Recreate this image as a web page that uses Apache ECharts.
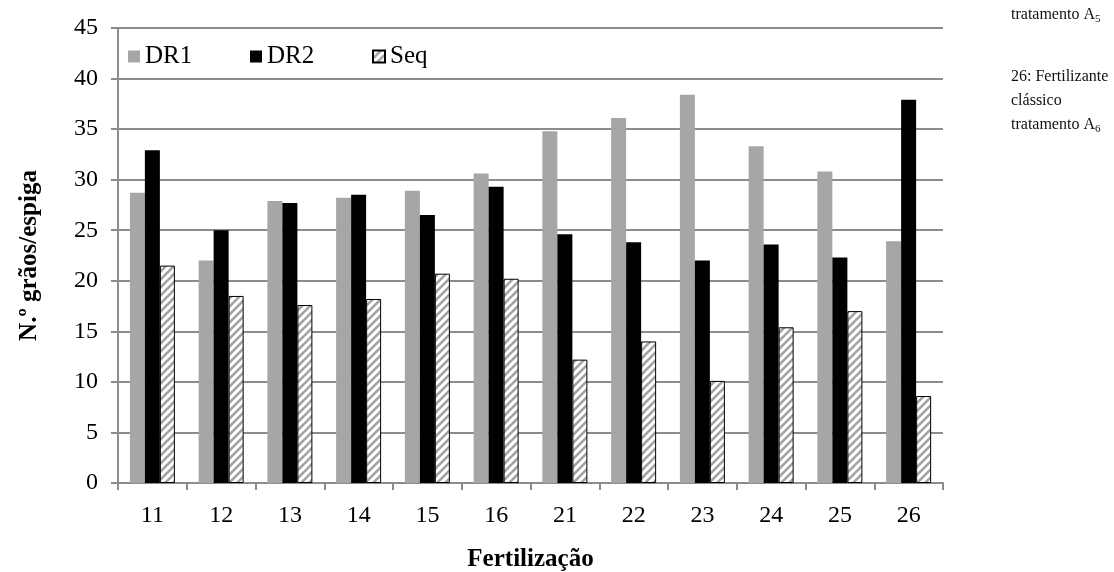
<!DOCTYPE html>
<html>
<head>
<meta charset="utf-8">
<script src="https://cdn.jsdelivr.net/npm/echarts@6/dist/echarts.min.js"></script>
<style>
  html, body { margin: 0; padding: 0; background: #fff; }
  #chart { width: 1114px; height: 572px; }
</style>
</head>
<body>
<div id="chart"></div>
<script>
// Fertilization treatments and number of grains per ear
const categories = ['11', '12', '13', '14', '15', '16', '21', '22', '23', '24', '25', '26'];
const dr1 = [28.7, 22.0, 27.9, 28.2, 28.9, 30.6, 34.8, 36.1, 38.4, 33.3, 30.8, 23.9];
const dr2 = [32.9, 25.0, 27.7, 28.5, 26.5, 29.3, 24.6, 23.8, 22.0, 23.6, 22.3, 37.9];
const seq = [21.5, 18.5, 17.6, 18.2, 20.7, 20.2, 12.2, 14.0, 10.1, 15.4, 17.0, 8.6];
const seriesNames = ['DR1', 'DR2', 'Seq'];
const yTicks = { min: 0, max: 45, step: 5 };

const FONT = '"Liberation Serif", "Times New Roman", serif';

// Diagonal hatch used for the "Seq" bars
function hatchPattern() {
  const s = 8;
  const c = document.createElement('canvas');
  c.width = s; c.height = s;
  const g = c.getContext('2d');
  g.fillStyle = '#ffffff';
  g.fillRect(0, 0, s, s);
  g.strokeStyle = '#a3a3a3';
  g.lineWidth = 2.6;
  g.beginPath();
  g.moveTo(-2, s + 2); g.lineTo(s + 2, -2);
  g.moveTo(-2, 2); g.lineTo(2, -2);
  g.moveTo(s - 2, s + 2); g.lineTo(s + 2, s - 2);
  g.stroke();
  return { image: c, repeat: 'repeat' };
}

const chart = echarts.init(document.getElementById('chart'), null, { renderer: 'canvas' });

// one legend block per series, laid out left to right
const legendLefts = [128, 250, 372];
const legends = seriesNames.map((n, i) => ({
  left: legendLefts[i], top: 44, padding: 0,
  itemWidth: 12, itemHeight: 12, itemGap: 0,
  icon: 'rect',
  textStyle: { fontFamily: FONT, fontSize: 25, color: '#000' },
  data: [n]
}));

const barW = 15;
chart.setOption({
  animation: false,
  backgroundColor: '#ffffff',
  textStyle: { fontFamily: FONT },
  grid: { left: 118, top: 28, width: 825, height: 455, containLabel: false, outerBoundsMode: 'none' },
  legend: legends,
  xAxis: {
    type: 'category',
    data: categories,
    name: 'Fertilização',
    nameLocation: 'middle',
    nameGap: 64,
    nameTextStyle: { fontFamily: FONT, fontSize: 25, fontWeight: 'bold', color: '#000' },
    axisLine: { lineStyle: { color: '#8c8c8c', width: 2 } },
    axisTick: { show: true, length: 7, lineStyle: { color: '#8c8c8c', width: 2 } },
    axisLabel: { fontFamily: FONT, fontSize: 24, color: '#000', margin: 21 }
  },
  yAxis: {
    type: 'value',
    min: yTicks.min, max: yTicks.max, interval: yTicks.step,
    name: 'N.º grãos/espiga',
    nameLocation: 'middle',
    nameGap: 76,
    nameTextStyle: { fontFamily: FONT, fontSize: 25, fontWeight: 'bold', color: '#000' },
    axisLine: { show: true, lineStyle: { color: '#8c8c8c', width: 2 } },
    axisTick: { show: true, length: 7, lineStyle: { color: '#8c8c8c', width: 2 } },
    axisLabel: { fontFamily: FONT, fontSize: 24, color: '#000', margin: 20 },
    splitLine: { show: true, lineStyle: { color: '#8c8c8c', width: 2 } }
  },
  series: [
    {
      name: seriesNames[0], type: 'bar', data: dr1, barWidth: barW, barGap: '0%',
      itemStyle: { color: '#a6a6a6' }
    },
    {
      name: seriesNames[1], type: 'bar', data: dr2, barWidth: barW, barGap: '0%',
      itemStyle: { color: '#000000' }
    },
    {
      name: seriesNames[2], type: 'bar', data: seq, barWidth: barW, barGap: '0%',
      itemStyle: { color: hatchPattern(), borderColor: '#000', borderWidth: 1 }
    }
  ],
  graphic: [
    {
      type: 'text', left: 1011, top: 7,
      style: {
        text: '{a|tratamento A}{s|5}',
        rich: {
          a: { fontFamily: FONT, fontSize: 16, fill: '#111' },
          s: { fontFamily: FONT, fontSize: 11, fill: '#111', padding: [8, 0, 0, 0] }
        }
      }
    },
    {
      type: 'text', left: 1011, top: 69,
      style: {
        text: '{a|26: Fertilizante}\n{a|clássico}\n{a|tratamento A}{s|6}',
        rich: {
          a: { fontFamily: FONT, fontSize: 16, fill: '#111', lineHeight: 24 },
          s: { fontFamily: FONT, fontSize: 11, fill: '#111', padding: [8, 0, 0, 0], lineHeight: 24 }
        }
      }
    }
  ]
});
</script>
</body>
</html>
